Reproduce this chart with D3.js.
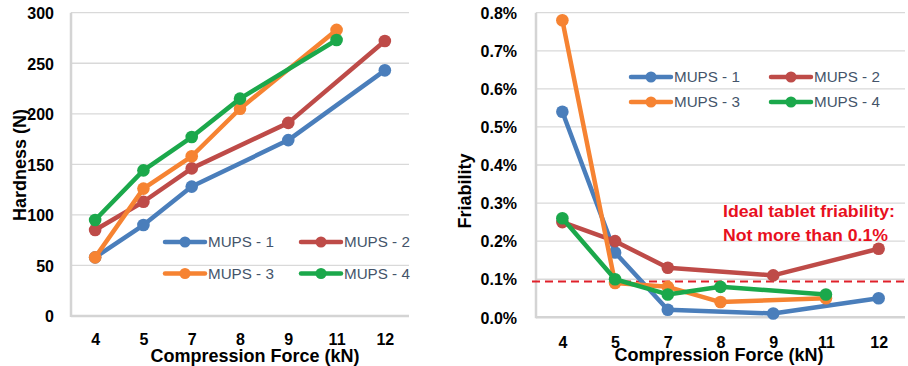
<!DOCTYPE html>
<html>
<head>
<meta charset="utf-8">
<script src="https://cdn.jsdelivr.net/npm/d3@7"></script>
<style>
html,body{margin:0;padding:0;background:#fff;}
svg{display:block;font-family:"Liberation Sans",Arial,sans-serif;}
</style>
</head>
<body>
<svg id="chart" width="908" height="366"></svg>
<script>
// ---- data ----
const categories = ["4","5","7","8","9","11","12"];
const seriesNames = ["MUPS - 1","MUPS - 2","MUPS - 3","MUPS - 4"];
const seriesColors = ["#4A7EBB","#BE4B48","#F68332","#1BA84B"];

const hardness1 = [58, 90, 128, null, 174, null, 243];
const hardness2 = [85, 113, 146, null, 191, null, 272];
const hardness3 = [58, 126, 158, 205, null, 283, null];
const hardness4 = [95, 144, 177, 215, null, 273, null];
const hardnessTicks = [0, 50, 100, 150, 200, 250, 300];

const friab1 = [0.54, 0.17, 0.02, null, 0.01, null, 0.05];
const friab2 = [0.25, 0.20, 0.13, null, 0.11, null, 0.18];
const friab3 = [0.78, 0.09, 0.08, 0.04, null, 0.05, null];
const friab4 = [0.26, 0.10, 0.06, 0.08, null, 0.06, null];
const friabTicks = [0, 0.1, 0.2, 0.3, 0.4, 0.5, 0.6, 0.7, 0.8];
const friabLimit = 0.094;

const svg = d3.select("#chart");

function drawPanel(cfg) {
  const g = svg.append("g");
  const x = d3.scalePoint().domain(categories).range([cfg.x0, cfg.x1]).padding(0.5);
  const y = d3.scaleLinear().domain(cfg.domain).range([cfg.y0, cfg.y1]);

  // gridlines
  g.append("g").selectAll("line").data(cfg.ticks.slice(1)).join("line")
    .attr("x1", cfg.x0).attr("x2", cfg.x1)
    .attr("y1", d => y(d)).attr("y2", d => y(d))
    .attr("stroke", "#D9D9D9").attr("stroke-width", 1.3);

  // y axis (labels only)
  const ya = d3.axisLeft(y).tickValues(cfg.ticks).tickFormat(cfg.fmt).tickSize(0).tickPadding(0);
  const yg = g.append("g").attr("transform", `translate(${cfg.yLabelX},0)`).call(ya);
  yg.select(".domain").remove();
  yg.selectAll("text").attr("font-size", 16).attr("font-weight", "bold").attr("fill", "#000")
    .attr("font-family", "'Liberation Sans',Arial,sans-serif").attr("dy", "0.36em");

  // x axis (labels only)
  const xa = d3.axisBottom(x).tickSize(0).tickPadding(0);
  const xg = g.append("g").attr("transform", `translate(0,${cfg.xLabelY})`).call(xa);
  xg.select(".domain").remove();
  xg.selectAll("text").attr("font-size", 16).attr("font-weight", "bold").attr("fill", "#000")
    .attr("font-family", "'Liberation Sans',Arial,sans-serif").attr("dy", "0.36em");

  // axis lines
  g.append("line").attr("x1", cfg.x0).attr("x2", cfg.x0).attr("y1", cfg.y1).attr("y2", cfg.y0 + 1)
    .attr("stroke", "#D4D4D4").attr("stroke-width", 2.5);
  g.append("line").attr("x1", cfg.x0).attr("x2", cfg.x1).attr("y1", cfg.y0).attr("y2", cfg.y0)
    .attr("stroke", "#D4D4D4").attr("stroke-width", 2.5);

  // extra (e.g. limit line / annotation) before series
  if (cfg.before) cfg.before(g, x, y);

  // series
  const line = d3.line().x(d => x(d.c)).y(d => y(d.v));
  cfg.series.forEach((vals, i) => {
    const pts = categories.map((c, k) => ({c, v: vals[k]})).filter(d => d.v !== null);
    g.append("path").datum(pts).attr("d", line).attr("fill", "none")
      .attr("stroke", seriesColors[i]).attr("stroke-width", 4.5).attr("stroke-linejoin", "round");
    g.append("g").selectAll("circle").data(pts).join("circle")
      .attr("cx", d => x(d.c)).attr("cy", d => y(d.v)).attr("r", 6.3)
      .attr("fill", seriesColors[i]);
  });

  // titles
  g.append("text").attr("x", cfg.xTitle[0]).attr("y", cfg.xTitle[1]).attr("text-anchor", "middle")
    .attr("dy", "0.36em").attr("font-size", 18).attr("font-weight", "bold").attr("fill", "#000")
    .text("Compression Force (kN)");
  g.append("text").attr("transform", `translate(${cfg.yTitle[0]},${cfg.yTitle[1]}) rotate(-90)`)
    .attr("text-anchor", "middle").attr("dy", "0.36em").attr("font-size", 18)
    .attr("font-weight", "bold").attr("fill", "#000").text(cfg.yTitleText);

  // legend
  const lg = g.append("g");
  seriesNames.forEach((name, i) => {
    const col = i % 2, row = Math.floor(i / 2);
    const lx = cfg.legend.x[col], ly = cfg.legend.y[row];
    lg.append("line").attr("x1", lx).attr("x2", lx + 40).attr("y1", ly).attr("y2", ly)
      .attr("stroke", seriesColors[i]).attr("stroke-width", 4.5).attr("stroke-linecap", "round");
    lg.append("circle").attr("cx", lx + 20).attr("cy", ly).attr("r", 5.5).attr("fill", seriesColors[i]);
    lg.append("text").attr("x", lx + 43).attr("y", ly).attr("dy", "0.36em")
      .attr("font-size", 15.2).attr("fill", "#44546A").text(name);
  });
}

drawPanel({
  x0: 71, x1: 409, y0: 316, y1: 12.7, domain: [0, 300],
  ticks: hardnessTicks, fmt: d => d,
  yLabelX: 54, xLabelY: 339,
  xTitle: [255, 356], yTitle: [20, 165], yTitleText: "Hardness (N)",
  series: [hardness1, hardness2, hardness3, hardness4],
  legend: {x: [165, 301], y: [242, 273.5]}
});

drawPanel({
  x0: 536, x1: 905, y0: 317.3, y1: 12.7, domain: [0, 0.8],
  ticks: friabTicks, fmt: d => d3.format(".1f")(d) + "%",
  yLabelX: 517, xLabelY: 342.5,
  xTitle: [719, 355], yTitle: [465, 191], yTitleText: "Friability",
  series: [friab1, friab2, friab3, friab4],
  legend: {x: [631, 771], y: [77, 102]},
  before: (g, x, y) => {
    g.append("line").attr("x1", 532).attr("x2", 905)
      .attr("y1", y(friabLimit)).attr("y2", y(friabLimit))
      .attr("stroke", "#E0202A").attr("stroke-width", 2).attr("stroke-dasharray", "8,5");
    g.append("text").attr("x", 723).attr("y", 211.5).attr("dy", "0.36em")
      .attr("font-size", 16.5).attr("font-weight", "bold").attr("fill", "#E8101E")
      .attr("textLength", 172).attr("lengthAdjust", "spacingAndGlyphs")
      .text("Ideal tablet friability:");
    g.append("text").attr("x", 723).attr("y", 235.5).attr("dy", "0.36em")
      .attr("font-size", 16.5).attr("font-weight", "bold").attr("fill", "#E8101E")
      .attr("textLength", 165).attr("lengthAdjust", "spacingAndGlyphs")
      .text("Not more than 0.1%");
  }
});
</script>
</body>
</html>
